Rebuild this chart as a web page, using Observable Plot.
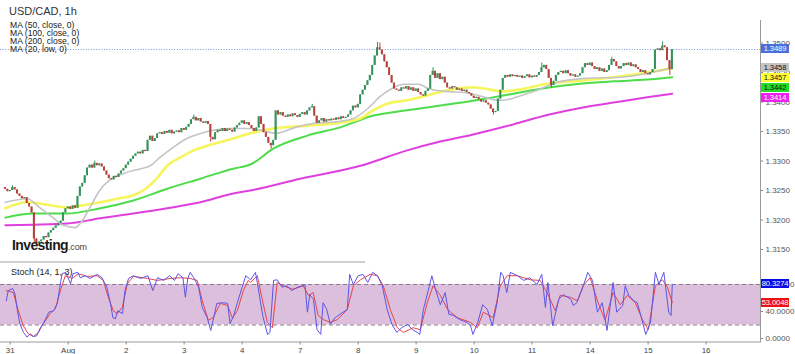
<!DOCTYPE html>
<html><head><meta charset="utf-8">
<script src="https://cdn.jsdelivr.net/npm/d3@7"></script>
<script src="https://cdn.jsdelivr.net/npm/@observablehq/plot@0.6"></script>
<style>
body{margin:0;background:#fff;font-family:Arial,"Liberation Sans",sans-serif;}
#wrap{position:relative;width:795px;height:354px;overflow:hidden;background:#fff;}
#wrap svg{position:absolute;left:0;top:0;}
.t{position:absolute;white-space:nowrap;}
.tag{position:absolute;left:761px;width:28px;height:9px;font-size:7.6px;line-height:9px;text-align:center;letter-spacing:-0.1px;}
</style></head><body><div id="wrap"></div>
<script>
// ---------- data ----------
const symbol = "USD/CAD, 1h";
const legendLabels = ["MA (50, close, 0)","MA (100, close, 0)","MA (200, close, 0)","MA (20, low, 0)"];
const stochLabel = "Stoch (14, 1, 3)";
const priceTicks = [1.3150,1.3200,1.3250,1.3300,1.3350,1.3400,1.3450,1.3500];
const stochTicks = [0,40,80];
const stochBand = [20,80];
const dayLabels = ["31","Aug","2","3","4","7","8","9","10","11","14","15","16"];
const dayStartBar = [2,26,50,74,98,122,146,170,194,218,242,266,290];
const firstOpen = 1.3255;
const closes = [
1.3252,1.3248,1.3250,1.3255,1.3251,
1.3244,1.3240,1.3236,1.3238,1.3228,1.3222,1.3212,
1.3168,1.3160,1.3163,
1.3166,1.3172,1.3170,1.3178,1.3182,1.3186,1.3190,1.3194,
1.3198,1.3212,1.3219,1.3222,1.3218,1.3224,1.3220,
1.3240,1.3256,1.3262,1.3275,1.3288,
1.3293,1.3288,1.3296,1.3292,1.3295,
1.3290,1.3283,1.3276,1.3270,
1.3268,1.3274,1.3272,1.3278,
1.3283,1.3287,1.3293,1.3298,1.3303,1.3308,1.3312,
1.3315,1.3312,1.3318,1.3316,
1.3335,1.3342,1.3333,1.3338,1.3346,
1.3348,1.3345,1.3350,1.3347,1.3352,1.3346,1.3349,1.3351,1.3348,
1.3355,1.3352,1.3357,
1.3362,1.3370,1.3374,1.3368,1.3372,
1.3366,1.3364,1.3367,1.3362,
1.3340,1.3336,
1.3348,1.3352,1.3350,
1.3355,1.3350,1.3354,1.3352,1.3349,
1.3356,1.3360,1.3364,1.3368,1.3362,1.3365,1.3360,
1.3355,1.3350,1.3356,
1.3375,
1.3362,1.3348,1.3340,1.3330,1.3326,
1.3335,1.3385,
1.3378,1.3382,1.3376,1.3374,1.3378,1.3375,1.3380,1.3377,1.3374,1.3379,1.3382,1.3378,1.3385,1.3390,
1.3392,
1.3376,1.3364,
1.3368,1.3372,1.3366,1.3370,1.3368,1.3371,1.3369,1.3373,1.3370,1.3375,1.3372,1.3374,1.3378,
1.3385,1.3393,1.3390,1.3396,
1.3412,1.3420,1.3428,1.3436,1.3445,
1.3462,1.3478,1.3492,1.3488,
1.3480,1.3468,1.3458,
1.3445,1.3432,1.3422,
1.3420,1.3418,1.3424,1.3422,1.3426,1.3420,
1.3424,1.3418,1.3422,1.3416,1.3412,
1.3410,1.3418,1.3422,
1.3445,1.3452,1.3440,
1.3448,1.3438,1.3442,1.3432,
1.3424,1.3422,1.3426,1.3424,1.3420,1.3422,1.3418,1.3420,1.3416,1.3414,
1.3410,1.3406,1.3408,1.3404,1.3400,1.3402,1.3398,
1.3395,1.3388,1.3382,
1.3384,1.3405,1.3420,
1.3440,1.3445,1.3442,1.3446,1.3443,1.3445,
1.3442,1.3444,1.3440,1.3443,1.3446,1.3441,1.3444,1.3442,1.3445,
1.3450,1.3458,1.3462,1.3455,
1.3440,1.3428,
1.3435,1.3445,1.3450,1.3452,1.3448,1.3453,
1.3448,1.3444,1.3446,1.3442,1.3444,1.3448,
1.3458,1.3465,1.3462,1.3466,
1.3460,1.3455,1.3458,1.3452,1.3456,1.3450,1.3453,
1.3462,1.3472,1.3468,
1.3460,1.3456,1.3460,
1.3465,1.3462,1.3466,1.3460,1.3463,1.3458,
1.3455,1.3450,1.3453,1.3448,1.3446,1.3450,1.3455,
1.3488,
1.3490,1.3487,1.3495,1.3492,
1.3470,1.3455,
1.3489
];
const wickHigh = [[3,1.3258],[37,1.3300],[78,1.3378],[127,1.3396],[154,1.3501],[155,1.3500],[177,1.3458],[222,1.3466],[251,1.3476],[272,1.3502]];
const wickLow = [[12,1.3162],[13,1.3155],[85,1.3332],[110,1.3320],[202,1.3378],[226,1.3424],[275,1.3445]];

const maGray = [[0,1.3230],[9,1.3236],[14.5,1.3220],[20,1.3203],[24,1.3191],[29,1.3187],[31,1.3194],[35,1.3221],[39,1.3250],[43,1.3267],[49,1.3279],[56,1.3287],[60,1.3292],[64,1.3306],[69.5,1.3323],[75,1.3338],[81,1.3347],[86,1.3352],[92,1.3355],[101,1.3355],[106,1.3352],[112,1.3347],[120,1.3357],[128,1.3364],[138,1.3367],[144,1.3372],[150,1.3389],[155,1.3409],[160,1.3423],[165,1.3430],[171,1.3430],[175,1.3423],[182,1.3418],[190,1.3416],[196,1.3411],[202,1.3404],[206,1.3403],[212,1.3409],[220,1.3420],[228,1.3433],[240,1.3440],[255,1.3442],[265,1.3448],[276,1.3458]];
const maYellow = [[0,1.3220],[9,1.3230],[18.6,1.3225],[25.7,1.3221],[32.3,1.3225],[39.3,1.3230],[46.3,1.3236],[53,1.3242],[57,1.3250],[63,1.3272],[67,1.3292],[72.4,1.3306],[78,1.3318],[83.6,1.3326],[91.8,1.3335],[101.4,1.3347],[110.9,1.3355],[125,1.3360],[138.6,1.3365],[146.9,1.3372],[152.3,1.3386],[158,1.3397],[166.3,1.3403],[174.6,1.3411],[182.9,1.3420],[193.6,1.3425],[200.7,1.3421],[204.8,1.3418],[213,1.3421],[224,1.3431],[238,1.3436],[251.6,1.3442],[265.6,1.3450],[276,1.3457]];
const maGreen = [[0,1.3204],[11.6,1.3211],[25.7,1.3211],[39.3,1.3220],[53,1.3233],[67,1.3253],[80.7,1.3270],[94.3,1.3287],[101.4,1.3294],[110.9,1.3321],[125,1.3343],[138.6,1.3357],[152.3,1.3377],[166.3,1.3386],[180,1.3394],[193.6,1.3402],[200.7,1.3407],[210.2,1.3414],[224.2,1.3424],[237.9,1.3431],[251.6,1.3435],[265.6,1.3438],[276,1.3442]];
const maMagenta = [[0,1.3191],[11.6,1.3192],[25.7,1.3194],[39.3,1.3203],[53,1.3211],[67,1.3220],[80.7,1.3230],[94.3,1.3245],[101.4,1.3250],[122,1.3270],[147,1.3292],[166.3,1.3318],[180,1.3333],[193.6,1.3345],[200.7,1.3352],[210.2,1.3362],[224.2,1.3378],[237.9,1.3390],[251.6,1.3399],[265.6,1.3408],[276,1.3414]];
const maColors = ["#c4c4c4","#f6f55c","#4ddc4a","#e03fe0"];
const maTags = [1.3458,1.3457,1.3442,1.3414];
const lastPrice = 1.3489;

const stochK = [[0.4,56],[1.2,71],[3,74],[4,66],[5,41],[6,22],[7.5,9],[9,2],[10.3,7],[11.6,3],[13,4],[14.5,16],[16,24],[18,39],[20,41],[21.5,52],[23,86],[23.5,96],[25,98],[27,81],[28,96],[30,98],[31,90],[33,93],[35,89],[38,95],[40,90],[42,76],[43.5,52],[44.5,31],[45.5,29],[46.5,41],[48.5,37],[49.5,71],[51,89],[53,93],[56,89],[59,93],[61,71],[63,90],[65.5,86],[68,93],[70,86],[71.5,96],[73.5,90],[74.5,61],[75.5,89],[76.5,98],[78,90],[80,76],[81.5,46],[83.5,31],[85,12],[86,27],[87.5,52],[90,53],[92,52],[93,22],[94.5,34],[96,53],[98,76],[99.5,93],[101.5,87],[103.5,98],[104.5,78],[106.5,34],[108.5,6],[109.5,9],[111,86],[112.5,87],[114.5,76],[116.5,78],[118.5,71],[121,76],[123,78],[124,80],[125,39],[126,65],[127.5,58],[129,13],[130.5,6],[131.5,53],[133,43],[134.5,21],[136.5,31],[138.5,36],[141.5,43],[142.5,95],[144,80],[146,93],[148,95],[150,83],[152,98],[154,93],[156,78],[158,43],[160,21],[162,9],[164,16],[166.5,21],[168.5,13],[170.5,9],[171.5,6],[173,43],[175,71],[176.5,93],[178,73],[180,50],[182,68],[183.5,36],[185.5,34],[188,28],[191,24],[192.5,19],[193.5,6],[195.5,24],[197.5,50],[199.5,43],[201.5,19],[203.5,53],[205,98],[206,93],[207.5,68],[209,98],[212,93],[214.5,86],[217,90],[220,80],[222,95],[223.5,46],[224.5,83],[226.5,19],[229,58],[231,65],[234,58],[235,49],[236.5,53],[239,76],[241,98],[243,86],[245,39],[247,53],[249,12],[251.5,83],[253,39],[255.5,49],[256.5,78],[258,64],[260,56],[261.5,53],[263,34],[265,6],[267,24],[269,98],[270.5,80],[272.5,98],[274.5,39],[275.5,34],[276,80.3274]];
const stochD = [[0.4,71],[3.3,68],[5.4,41],[7.4,19],[9.5,7],[11.6,3],[13.7,9],[15.7,22],[18.6,37],[20.7,44],[22.8,71],[24.8,93],[27.7,89],[30.2,96],[34,92],[38,93],[40.5,86],[42.6,61],[44.7,41],[46.3,37],[48.4,46],[50.5,81],[53,92],[58.8,89],[62.9,86],[68.3,89],[72.4,90],[76.5,89],[79.4,86],[81.5,56],[84,27],[86,31],[89,52],[92,49],[94,30],[96,41],[98.5,71],[100.5,86],[101.4,83],[104.3,93],[106.3,58],[108.4,24],[110.5,16],[112.5,83],[115,78],[119,73],[123.3,78],[125.4,64],[127.4,68],[129.5,34],[131.6,28],[134.5,24],[137.4,28],[141.5,43],[144,78],[147,87],[151,95],[154,93],[156.4,78],[159.3,43],[162.2,16],[164.7,9],[168.8,16],[171.7,13],[174.6,53],[177,78],[180,64],[183,43],[187,31],[192.4,24],[195.3,16],[197.8,39],[201.9,31],[204.8,78],[207.7,93],[211.8,93],[217.2,87],[221.3,86],[224.2,68],[227.6,41],[229.6,64],[233.8,61],[236.7,56],[239.1,78],[242,90],[245.3,53],[248.2,27],[251.5,68],[254.5,50],[257.4,64],[260.7,53],[263.6,28],[266.1,13],[269,78],[271.9,87],[274,76],[276,53.0048]];
const lastK = 80.3274, lastD = 53.0048;

// ---------- build ----------
const wrap = document.getElementById("wrap");
const hiMap = new Map(wickHigh), loMap = new Map(wickLow);
const bars = closes.map((c, i) => {
  const o = i === 0 ? firstOpen : closes[i - 1];
  const h = Math.max(o, c, hiMap.has(i) ? hiMap.get(i) : -Infinity);
  const l = Math.min(o, c, loMap.has(i) ? loMap.get(i) : Infinity);
  return {i, o, c, h, l, up: c >= o};
});
const xDomain = [-2, 312.5];
const font = "Arial, 'Liberation Sans', sans-serif";
const UP = "#34925a", DOWN = "#b5433b";

const maSeries = [maGray, maYellow, maGreen, maMagenta];
const maOrder = [3, 2, 1, 0];

const main = Plot.plot({
  width: 795, height: 354, marginLeft: 0, marginRight: 35, marginTop: 20, marginBottom: 13,
  style: {background: "transparent", fontFamily: font, fontSize: "8px", color: "#555", overflow: "visible"},
  x: {domain: xDomain, axis: null},
  y: {domain: [1.315, 1.35], range: [249, 42.5], axis: null},
  marks: [
    Plot.ruleY([lastPrice], {stroke: "#7597e6", strokeDasharray: "1,1.6", strokeWidth: 1}),
    ...maOrder.map(k => Plot.line(maSeries[k], {x: d => d[0], y: d => d[1], stroke: maColors[k],
        strokeWidth: k === 1 ? 2.6 : (k === 0 ? 1.6 : 2), curve: "monotone-x"})),
    Plot.ruleX(bars.filter(d => d.up), {x: "i", y1: "l", y2: "h", stroke: UP, strokeWidth: 1}),
    Plot.ruleX(bars.filter(d => !d.up), {x: "i", y1: "l", y2: "h", stroke: DOWN, strokeWidth: 1}),
    Plot.rect(bars.filter(d => d.up), {x1: d => d.i - 0.4, x2: d => d.i + 0.4, y1: "o", y2: "c", fill: UP}),
    Plot.rect(bars.filter(d => !d.up), {x1: d => d.i - 0.4, x2: d => d.i + 0.4, y1: "o", y2: "c", fill: DOWN}),
    Plot.axisY(priceTicks, {anchor: "right", tickSize: 2, tickPadding: 3, tickFormat: d => d.toFixed(4),
        fontSize: 8, fill: "#555", stroke: "#888", label: null}),
    Plot.frame({anchor: "right", stroke: "#9a9a9a"})
  ]
});

const stoch = Plot.plot({
  width: 795, height: 354, marginLeft: 0, marginRight: 35, marginTop: 20, marginBottom: 12.5,
  style: {background: "transparent", fontFamily: font, fontSize: "8px", color: "#555", overflow: "visible"},
  x: {domain: xDomain, axis: null},
  y: {domain: [0, 100], range: [338, 270.5], axis: null},
  marks: [
    Plot.rect([0], {x1: xDomain[0], x2: xDomain[1], y1: stochBand[0], y2: stochBand[1], fill: "#dcbfdc"}),
    Plot.ruleY(stochBand, {stroke: "#8a7c8a", strokeDasharray: "4,3", strokeWidth: 1}),
    Plot.line(stochD, {x: d => d[0], y: d => d[1], stroke: "#e9434a", strokeWidth: 1}),
    Plot.line(stochK, {x: d => d[0], y: d => d[1], stroke: "#5b55e8", strokeWidth: 1}),
    Plot.axisY(stochTicks, {anchor: "right", tickSize: 2, tickPadding: 3, tickFormat: d => d.toFixed(4),
        fontSize: 8, fill: "#555", stroke: "#888", label: null}),
    Plot.axisX(dayStartBar, {anchor: "bottom", tickSize: 3, tickPadding: 2,
        tickFormat: d => dayLabels[dayStartBar.indexOf(d)], fontSize: 8, fill: "#444", stroke: "#888", label: null}),
    Plot.frame({anchor: "bottom", stroke: "#9a9a9a"})
  ]
});

wrap.appendChild(stoch);
wrap.appendChild(main);

function addText(txt, css) {
  const d = document.createElement("div");
  d.className = "t"; d.textContent = txt;
  Object.assign(d.style, css);
  wrap.appendChild(d);
  return d;
}
// separator
const sep = document.createElement("div");
Object.assign(sep.style, {position: "absolute", left: "0px", top: "261px", width: "365px", height: "2px", background: "#cfcfcf"});
wrap.appendChild(sep);

addText(symbol, {left: "9px", top: "5px", fontSize: "11px", color: "#333"});
legendLabels.forEach((s, k) => addText(s, {left: "10px", top: (20.5 + 8 * k) + "px", fontSize: "8.6px", lineHeight: "9px", color: "#222"}));
addText(stochLabel, {left: "11px", top: "267px", fontSize: "9px", color: "#222"});

const logo = document.createElement("div");
logo.className = "t";
Object.assign(logo.style, {left: "12px", top: "237px", fontSize: "14px", fontWeight: "bold", color: "#1b1b1b", letterSpacing: "-0.6px"});
logo.innerHTML = 'Investing<span style="font-weight:normal;font-size:9px;color:#444;letter-spacing:-0.2px">.com</span>';
wrap.appendChild(logo);

// price tags
function scaleOf(p, name) { const s = p.scale(name); return d3.scaleLinear(s.domain, s.range); }
const yMain = scaleOf(main, "y"), yStoch = scaleOf(stoch, "y");
function tag(v, y, bg, fg, digits) {
  const d = document.createElement("div");
  d.className = "tag"; d.textContent = v.toFixed(digits);
  Object.assign(d.style, {top: (y - 4.5) + "px", background: bg, color: fg});
  wrap.appendChild(d);
}
tag(lastPrice, yMain(lastPrice), "#4a6fdc", "#fff", 4);
const tagColors = [["#c4c4c4", "#111"], ["#ffff33", "#111"], ["#22dd22", "#111"], ["#ee22ee", "#fff"]];
let prev = -Infinity;
maTags.forEach((v, k) => {
  let y = Math.max(yMain(v), prev + 10);
  prev = y;
  tag(v, y, tagColors[k][0], tagColors[k][1], 4);
});
tag(lastK, yStoch(lastK), "#0a0ae6", "#fff", 4);
tag(lastD, yStoch(lastD), "#ee1111", "#fff", 4);
</script></body></html>
